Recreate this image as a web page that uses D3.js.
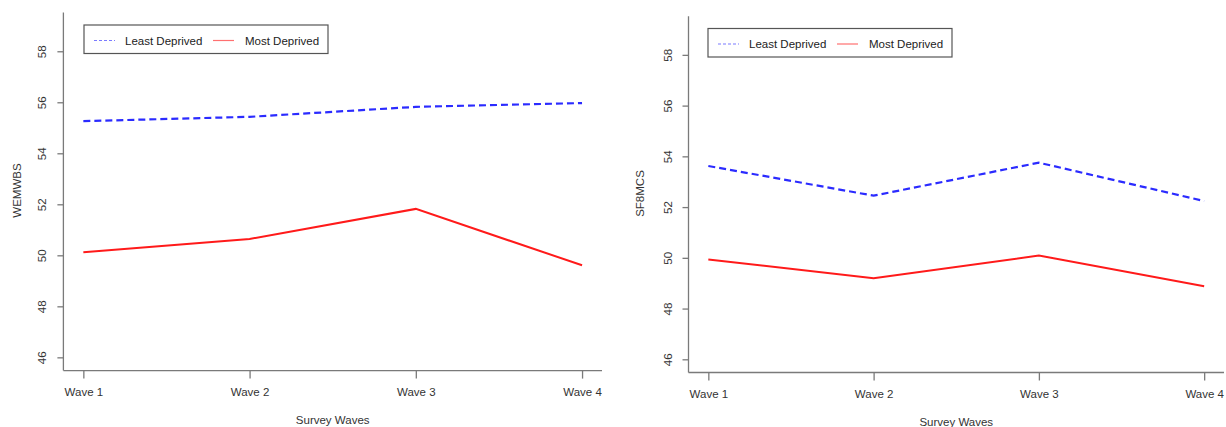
<!DOCTYPE html>
<html><head><meta charset="utf-8">
<script src="https://cdn.jsdelivr.net/npm/d3@7"></script>
<style>body{margin:0;background:#fff}svg{display:block}text{font-family:"Liberation Sans",Arial,sans-serif}</style>
</head><body><svg id="c" width="1226" height="427"></svg>
<script>
const waves = ["Wave 1","Wave 2","Wave 3","Wave 4"];
const yTicks = [46,48,50,52,54,56,58];
const seriesNames = ["Least Deprived","Most Deprived"];
const wemwbsLeast = [55.26,55.43,55.82,55.97];
const wemwbsMost = [50.12,50.64,51.82,49.61];
const sf8Least = [53.62,52.45,53.75,52.24];
const sf8Most = [49.93,49.2,50.09,48.88];

const svg = d3.select("#c");
const axisCol = "#7a7a7a", textCol = "#333";

function panel(cfg){
  const x = d3.scalePoint().domain(waves).range([cfg.x0 + (cfg.x1-cfg.x0)*0.12/3.24, cfg.x1 - (cfg.x1-cfg.x0)*0.12/3.24]);
  const y = d3.scaleLinear().domain([45.48,59.52]).range([cfg.y0, cfg.y1]);
  const g = svg.append("g");
  const ya = g.append("g").attr("transform",`translate(${cfg.x0},0)`)
    .call(d3.axisLeft(y).tickValues(yTicks).tickSize(6).tickPadding(0).tickFormat(d3.format("d")));
  ya.select(".domain").attr("d",`M0,${cfg.y1}V${cfg.y0}`);
  ya.selectAll("path,line").attr("stroke",axisCol).attr("stroke-width",1.3);
  ya.selectAll("text").attr("fill",textCol).attr("font-size",11.5)
    .attr("text-anchor","middle").attr("dy",0).attr("x",0).attr("y",0)
    .attr("transform",d=>`translate(-21,0) rotate(-90)`).attr("dominant-baseline","central");
  const xa = g.append("g").attr("transform",`translate(0,${cfg.y0})`)
    .call(d3.axisBottom(x).tickSize(8).tickPadding(0));
  xa.select(".domain").attr("d",`M${cfg.x0},0H${cfg.x1}`);
  xa.selectAll("path,line").attr("stroke",axisCol).attr("stroke-width",1.3);
  xa.selectAll("text").attr("fill",textCol).attr("font-size",11.5).attr("dy",0).attr("y",21.5).attr("dominant-baseline","central");
  g.append("text").attr("x",(cfg.x0+cfg.x1)/2).attr("y",cfg.y0+49).attr("text-anchor","middle")
    .attr("dominant-baseline","central").attr("font-size",11.5).attr("fill",textCol).text("Survey Waves");
  g.append("text").attr("transform",`translate(${cfg.ylx},${cfg.yly}) rotate(-90)`).attr("text-anchor","middle")
    .attr("dominant-baseline","central").attr("font-size",11.5).attr("fill",textCol).text(cfg.ylab);
  const line = d3.line().x((d,i)=>x(waves[i])).y(d=>y(d));
  g.append("path").datum(cfg.most).attr("d",line).attr("fill","none").attr("stroke","#ff1a1a").attr("stroke-width",2);
  g.append("path").datum(cfg.least).attr("d",line).attr("fill","none").attr("stroke","#2b2bff").attr("stroke-width",2.2).attr("stroke-dasharray","7,4");
  const L = g.append("g").attr("transform",`translate(${cfg.lx},${cfg.ly})`);
  L.append("rect").attr("x",0).attr("y",0).attr("width",244).attr("height",28.5).attr("fill","#fff").attr("stroke","#555").attr("stroke-width",1.2);
  const items = [{n:seriesNames[0],c:"#7b7bff",dash:"3,2",lx:10,tx:41},{n:seriesNames[1],c:"#ff7070",dash:null,lx:129,tx:161}];
  items.forEach(it=>{
    L.append("line").attr("x1",it.lx).attr("x2",it.lx+21).attr("y1",15.5).attr("y2",15.5).attr("stroke",it.c).attr("stroke-width",1.2).attr("stroke-dasharray",it.dash);
    L.append("text").attr("x",it.tx).attr("y",15.5).attr("dominant-baseline","central").attr("font-size",11.5).attr("fill","#222").text(it.n);
  });
}

panel({x0:63.4,x1:602,y0:370.6,y1:12.5,ylab:"WEMWBS",ylx:17,yly:190.5,least:wemwbsLeast,most:wemwbsMost,lx:84,ly:25});
panel({x0:688.5,x1:1224,y0:372.5,y1:16.3,ylab:"SF8MCS",ylx:640,yly:193.5,least:sf8Least,most:sf8Most,lx:708,ly:28.5});
</script></body></html>
